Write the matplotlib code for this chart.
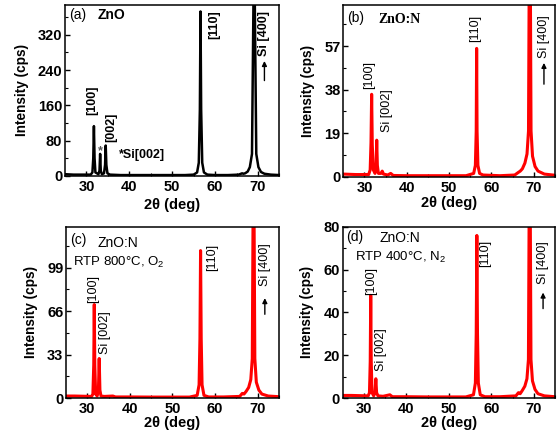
import matplotlib
matplotlib.use("Agg")
import matplotlib.pyplot as plt
from matplotlib.ticker import AutoMinorLocator

plt.rcParams['font.family'] = ['Liberation Sans', 'DejaVu Sans']
plt.rcParams['mathtext.fontset'] = 'custom'
plt.rcParams['mathtext.rm'] = 'Liberation Sans'
plt.rcParams['mathtext.bf'] = 'Liberation Sans:bold'

# (a) ZnO - traced XRD pattern
tt_a = [25, 27, 29, 31, 31.4, 31.6, 31.75, 31.9, 32.1, 32.8, 33.05, 33.2, 33.35, 33.6,
        34.1, 34.35, 34.5, 34.65, 34.9, 35.5, 38, 42, 46, 50, 53, 55, 55.8, 56.2, 56.45,
        56.6, 56.75, 57.0, 57.4, 58.2, 60, 63, 65.5, 66.3, 66.6, 67, 67.6, 68.1, 68.6,
        68.95, 69.1, 69.25, 69.6, 70.1, 70.7, 71.5, 73, 75]
cps_a = [4, 3, 3, 3, 8, 40, 113, 40, 8, 4, 12, 50, 12, 4,
         6, 25, 69, 25, 6, 3, 2, 2, 2, 2, 2, 3, 8, 30, 150,
         373, 150, 30, 8, 3, 2, 2, 3, 6, 5, 6, 10, 20, 50,
         400, 2000, 400, 50, 20, 9, 5, 3, 2]

# (b) ZnO:N
tt_b = [25, 28, 31, 31.35, 31.55, 31.7, 31.85, 32.1, 32.5, 32.75, 32.9, 33.05, 33.3, 33.9,
        34.2, 34.5, 35.5, 36.2, 36.8, 40, 45, 50, 54, 55.8, 56.2, 56.4, 56.5, 56.6, 56.8,
        57.2, 58, 62, 65.5, 66.4, 66.8, 67.3, 67.9, 68.4, 68.75, 68.95, 69.05, 69.15,
        69.35, 69.7, 70.3, 71, 72.5, 75]
cps_b = [1.2, 1.0, 1.0, 3, 15, 36, 14, 3, 1.5, 5, 16, 5, 1.5, 1.5,
         2.5, 1.2, 0.8, 1.5, 0.6, 0.5, 0.5, 0.5, 0.5, 1.5, 5, 20, 56, 20, 5,
         1.5, 0.8, 0.5, 0.8, 2, 2.5, 3.5, 6, 10, 20, 100, 1000, 100,
         20, 9, 4.5, 2.5, 1.2, 0.7]

# (c) ZnO:N, RTP 800C O2
tt_c = [25, 27, 31, 31.3, 31.5, 31.62, 31.75, 31.95, 32.3, 32.6, 32.78, 32.95, 33.2, 34,
        36, 36.6, 40, 45, 50, 54, 55.8, 56.25, 56.45, 56.6, 56.75, 56.95, 57.4, 58.5, 62,
        65.8, 66.4, 66.8, 67.3, 67.9, 68.4, 68.75, 68.95, 69.05, 69.15, 69.35, 69.7,
        70.3, 71, 72.5, 75]
cps_c = [1.5, 1.5, 1.2, 3, 25, 71, 25, 3, 1.5, 6, 30, 6, 1.5, 1.2,
         1.5, 0.8, 0.8, 0.7, 0.7, 0.7, 2, 10, 45, 112, 45, 10, 2, 0.8, 0.8,
         1.2, 3.5, 3, 5, 8, 14, 30, 150, 1500, 150, 30, 12,
         6, 3, 1.5, 1]

# (d) ZnO:N, RTP 400C N2
tt_d = [25, 27, 31, 31.3, 31.48, 31.6, 31.72, 31.9, 32.3, 32.6, 32.8, 32.98, 33.3, 34.5,
        36.1, 36.7, 40, 45, 50, 54, 55.8, 56.25, 56.45, 56.6, 56.75, 56.95, 57.4, 58.5, 62,
        65.8, 66.4, 66.8, 67.3, 67.9, 68.4, 68.75, 68.95, 69.05, 69.15, 69.35, 69.7,
        70.3, 71, 72.5, 75]
cps_d = [1.2, 1.2, 1.0, 2.5, 17, 48, 17, 2.5, 1, 2.5, 9, 2.5, 1, 0.8,
         1.5, 0.6, 0.6, 0.5, 0.5, 0.5, 1.5, 7, 30, 76, 30, 7, 1.5, 0.6, 0.6,
         1, 2.5, 2, 3.5, 5.5, 9, 18, 100, 1000, 100, 18, 8,
         4, 2, 1, 0.6]

yticks_a = [0, 80, 160, 240, 320]
yticks_b = [0, 19, 38, 57]
yticks_c = [0, 33, 66, 99]
yticks_d = [0, 20, 40, 60, 80]
xticks = [30, 40, 50, 60, 70]

fig = plt.figure(figsize=(5.6, 4.41), dpi=100)

def make_ax(rect, x, y, color, ylim, yticks, lw, xpad):
    ax = fig.add_axes(rect)
    ax.plot(x, y, color=color, lw=lw, solid_joinstyle='round')
    ax.set_xlim(25, 75)
    ax.set_ylim(*ylim)
    ax.set_xticks(xticks)
    ax.set_yticks(yticks)
    ax.xaxis.set_minor_locator(AutoMinorLocator(2))
    ax.yaxis.set_minor_locator(AutoMinorLocator(2))
    ax.tick_params(which='both', direction='in', labelsize=10.5)
    ax.tick_params(axis='x', pad=3)
    ax.tick_params(axis='y', pad=2)
    ax.tick_params(which='major', length=3.5, width=1)
    ax.tick_params(which='minor', length=2, width=0.8)
    for lab in ax.get_xticklabels() + ax.get_yticklabels():
        lab.set_fontweight('bold')
    for s in ax.spines.values():
        s.set_linewidth(1.1)
    ax.set_xlabel('2θ (deg)', fontsize=10.5, fontweight='bold', labelpad=xpad)
    ax.set_ylabel('Intensity (cps)', fontsize=9.8, fontweight='bold', labelpad=6.5)
    return ax

def si400(ax, x, ytext, yarr0, yarr1, bold=False):
    ax.text(x, ytext, 'Si [400]', rotation=90, ha='center', va='center', fontsize=9,
            fontweight='bold' if bold else 'normal')
    ax.annotate('', xy=(x, yarr1), xytext=(x, yarr0),
                arrowprops=dict(arrowstyle='-|>', color='black', lw=1, mutation_scale=7))

# (a)
ax = make_ax([0.116, 0.601, 0.383, 0.388], tt_a, cps_a, 'black', (0, 388), yticks_a, 1.8, 2.5)
ax.text(0.02, 0.94, '(a)', transform=ax.transAxes, fontsize=10, va='center')
ax.text(0.15, 0.94, 'ZnO', transform=ax.transAxes, fontsize=10, fontweight='bold', va='center')
ax.text(31.4, 172, '[100]', rotation=90, ha='center', va='center', fontsize=9, fontweight='bold')
ax.text(35.7, 110, '[002]', rotation=90, ha='center', va='center', fontsize=9, fontweight='bold')
ax.text(59.8, 343, '[110]', rotation=90, ha='center', va='center', fontsize=9, fontweight='bold')
ax.text(33.2, 57, '*', ha='center', va='center', fontsize=9, color='#555555', fontweight='bold')
ax.text(37.6, 47, '*Si[002]', ha='left', va='center', fontsize=9, fontweight='bold')
si400(ax, 71.5, 322, 210, 267, bold=True)

# (b)
ax = make_ax([0.613, 0.599, 0.378, 0.390], tt_b, cps_b, 'red', (0, 75), yticks_b, 2.2, 0.5)
ax.text(0.02, 0.925, '(b)', transform=ax.transAxes, fontsize=10, va='center')
ax.text(0.165, 0.915, 'ZnO:N', transform=ax.transAxes, fontsize=10, fontweight='bold',
        family='Liberation Serif', va='center')
ax.text(31.1, 44.2, '[100]', rotation=90, ha='center', va='center', fontsize=9)
ax.text(35.25, 29, 'Si [002]', rotation=90, ha='center', va='center', fontsize=9)
ax.text(56.1, 64.6, '[110]', rotation=90, ha='center', va='center', fontsize=9)
si400(ax, 72.4, 61, 39.2, 50.9)

# (c)
ax = make_ax([0.118, 0.0975, 0.380, 0.388], tt_c, cps_c, 'red', (0, 130), yticks_c, 2.2, 0)
ax.text(0.02, 0.924, '(c)', transform=ax.transAxes, fontsize=10, va='center')
ax.text(0.15, 0.906, 'ZnO:N', transform=ax.transAxes, fontsize=10, va='center')
ax.text(0.033, 0.79, r'RTP 800°C, O$_\mathregular{2}$', transform=ax.transAxes, fontsize=9.5, va='center')
ax.text(31.4, 82.8, '[100]', rotation=90, ha='center', va='center', fontsize=9)
ax.text(34.15, 49.7, 'Si [002]', rotation=90, ha='center', va='center', fontsize=9)
ax.text(59.3, 107, '[110]', rotation=90, ha='center', va='center', fontsize=9)
si400(ax, 71.7, 101, 61.5, 78)

# (d)
ax = make_ax([0.612, 0.0975, 0.379, 0.388], tt_d, cps_d, 'red', (0, 80), yticks_d, 2.2, 0)
ax.text(0.017, 0.94, '(d)', transform=ax.transAxes, fontsize=10, va='center')
ax.text(0.175, 0.936, 'ZnO:N', transform=ax.transAxes, fontsize=10, va='center')
ax.text(0.057, 0.82, r'RTP 400°C, N$_\mathregular{2}$', transform=ax.transAxes, fontsize=9.5, va='center')
ax.text(31.6, 54.5, '[100]', rotation=90, ha='center', va='center', fontsize=9)
ax.text(34.0, 22.6, 'Si [002]', rotation=90, ha='center', va='center', fontsize=9)
ax.text(58.5, 67.5, '[110]', rotation=90, ha='center', va='center', fontsize=9)
si400(ax, 72.2, 63.2, 40.5, 50.6)

fig.savefig('out.png', dpi=100)
